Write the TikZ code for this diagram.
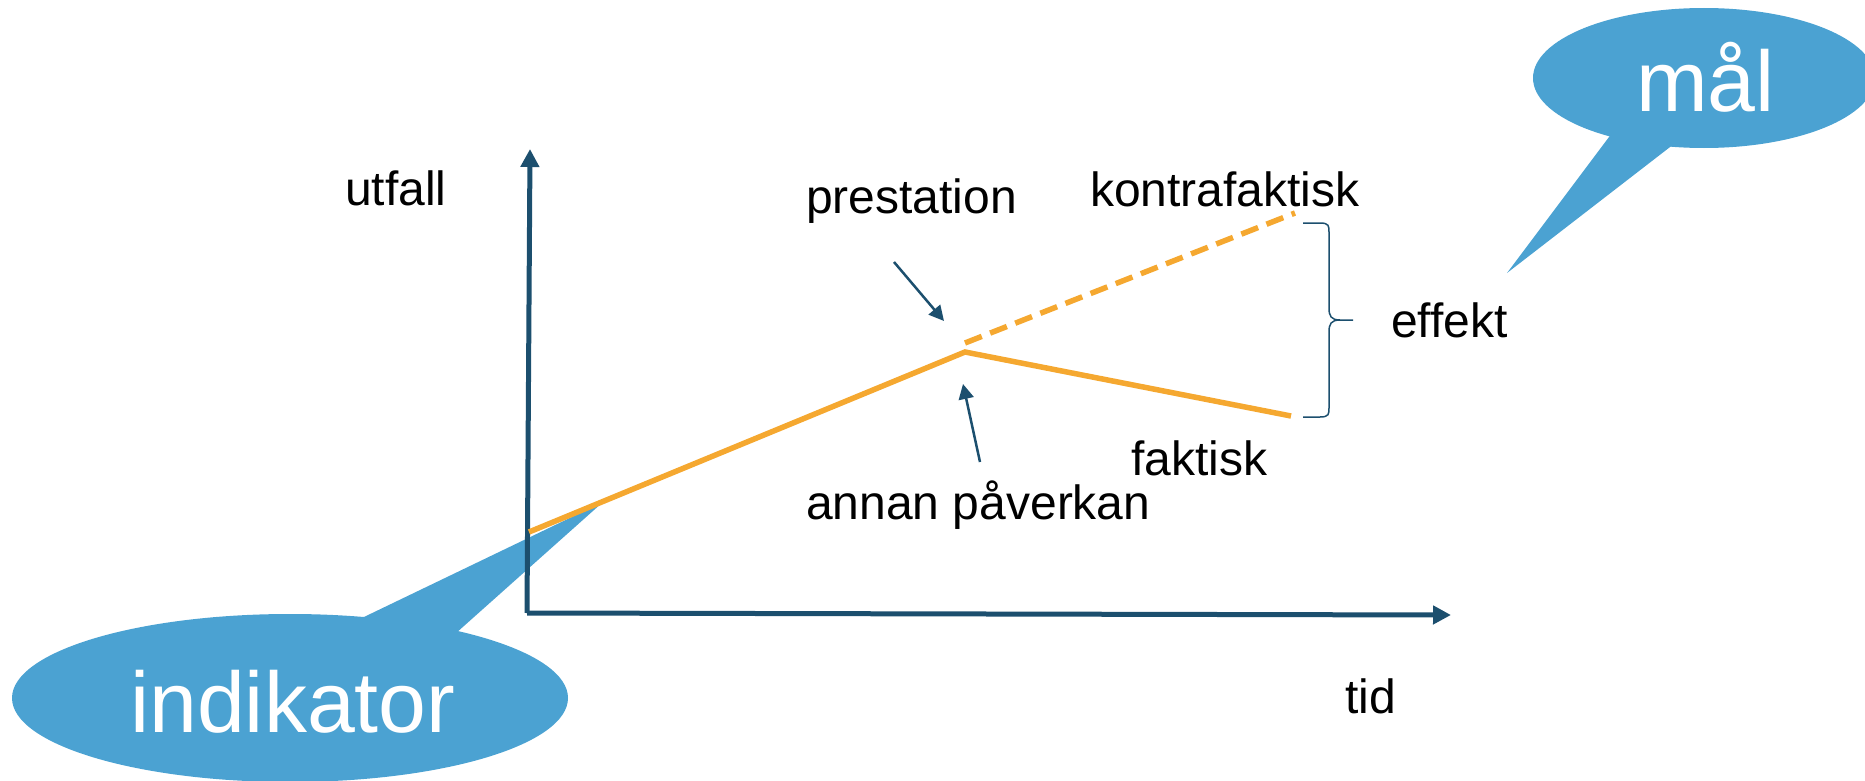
\documentclass[tikz,border=0pt]{standalone}
\usepackage{fontspec}
\setmainfont{Liberation Sans}
\usetikzlibrary{arrows.meta}
\definecolor{utfallorange}{HTML}{F5A830}
\definecolor{bubblablue}{HTML}{4BA2D2}
\definecolor{axelblue}{HTML}{1C4F6E}
\tikzset{
  lbl/.style={font=\fontsize{48bp}{57bp}\selectfont, anchor=base west, inner sep=0pt},
  bubbeltext/.style={font=\fontsize{86bp}{100bp}\selectfont, text=white, anchor=base west, inner sep=0pt},
  axel/.style={draw=axelblue, line width=5bp, -{Triangle[width=18bp,length=18bp]}},
  pil/.style={draw=axelblue, line width=2.5bp, -{Triangle[width=15bp,length=15bp]}},
  kurva/.style={draw=utfallorange, line width=5.5bp},
}
\begin{document}
\begin{tikzpicture}[x=1bp,y=-1bp]
\useasboundingbox (0,0) rectangle (1865,781);
\fill[bubblablue] (290,698) ellipse [x radius=278, y radius=84];
\fill[bubblablue] (339,629) -- (603,502) -- (446,642) -- cycle;
\fill[bubblablue] (1704,78) ellipse [x radius=171, y radius=70];
\fill[bubblablue] (1618,125) -- (1507,273) -- (1683,137) -- cycle;
\coordinate (origo) at (527,613);
\coordinate (ytopp) at (530,149);
\coordinate (xslut) at (1451,615);
\path[axel] (origo) -- (ytopp);
\path[axel] (origo) -- (xslut);
\coordinate (start) at (529,532);
\coordinate (topp) at (965,352);
\coordinate (faktslut) at (1291,416);
\coordinate (kontrstart) at (965,343);
\coordinate (kontrslut) at (1295,213);
\path[kurva] (start) -- (topp) -- (faktslut);
\path[kurva, dash pattern=on 18bp off 9bp] (kontrstart) -- (kontrslut);
\coordinate (prestfot) at (894,262);
\coordinate (presttopp) at (944,321);
\coordinate (annanfot) at (980,462);
\coordinate (annantopp) at (963,384);
\path[pil] (prestfot) -- (presttopp);
\path[pil] (annanfot) -- (annantopp);
\draw[axelblue, line width=1.5bp] (1303,223) -- (1320,223) .. controls (1329,223) and (1329,226) .. (1329,232)
  -- (1329,308) .. controls (1329,316) and (1331,320) .. (1340,320) -- (1353,320);
\draw[axelblue, line width=1.5bp] (1303,417) -- (1320,417) .. controls (1329,417) and (1329,414) .. (1329,408)
  -- (1329,332) .. controls (1329,324) and (1331,320) .. (1340,320);
\node[lbl] (utfall) at (345,205) {utfall};
\node[lbl] (prestation) at (806,213) {prestation};
\node[lbl] (kontrafaktisk) at (1090,206) {kontrafaktisk};
\node[lbl] (effekt) at (1391,337) {effekt};
\node[lbl] (faktisk) at (1131,475) {faktisk};
\node[lbl] (annan) at (806,519) {annan påverkan};
\node[lbl] (tid) at (1345,713) {tid};
\node[bubbeltext] (indikator) at (130,732) {indikator};
\node[bubbeltext] (mal) at (1636,111) {mål};
\end{tikzpicture}
\end{document}
